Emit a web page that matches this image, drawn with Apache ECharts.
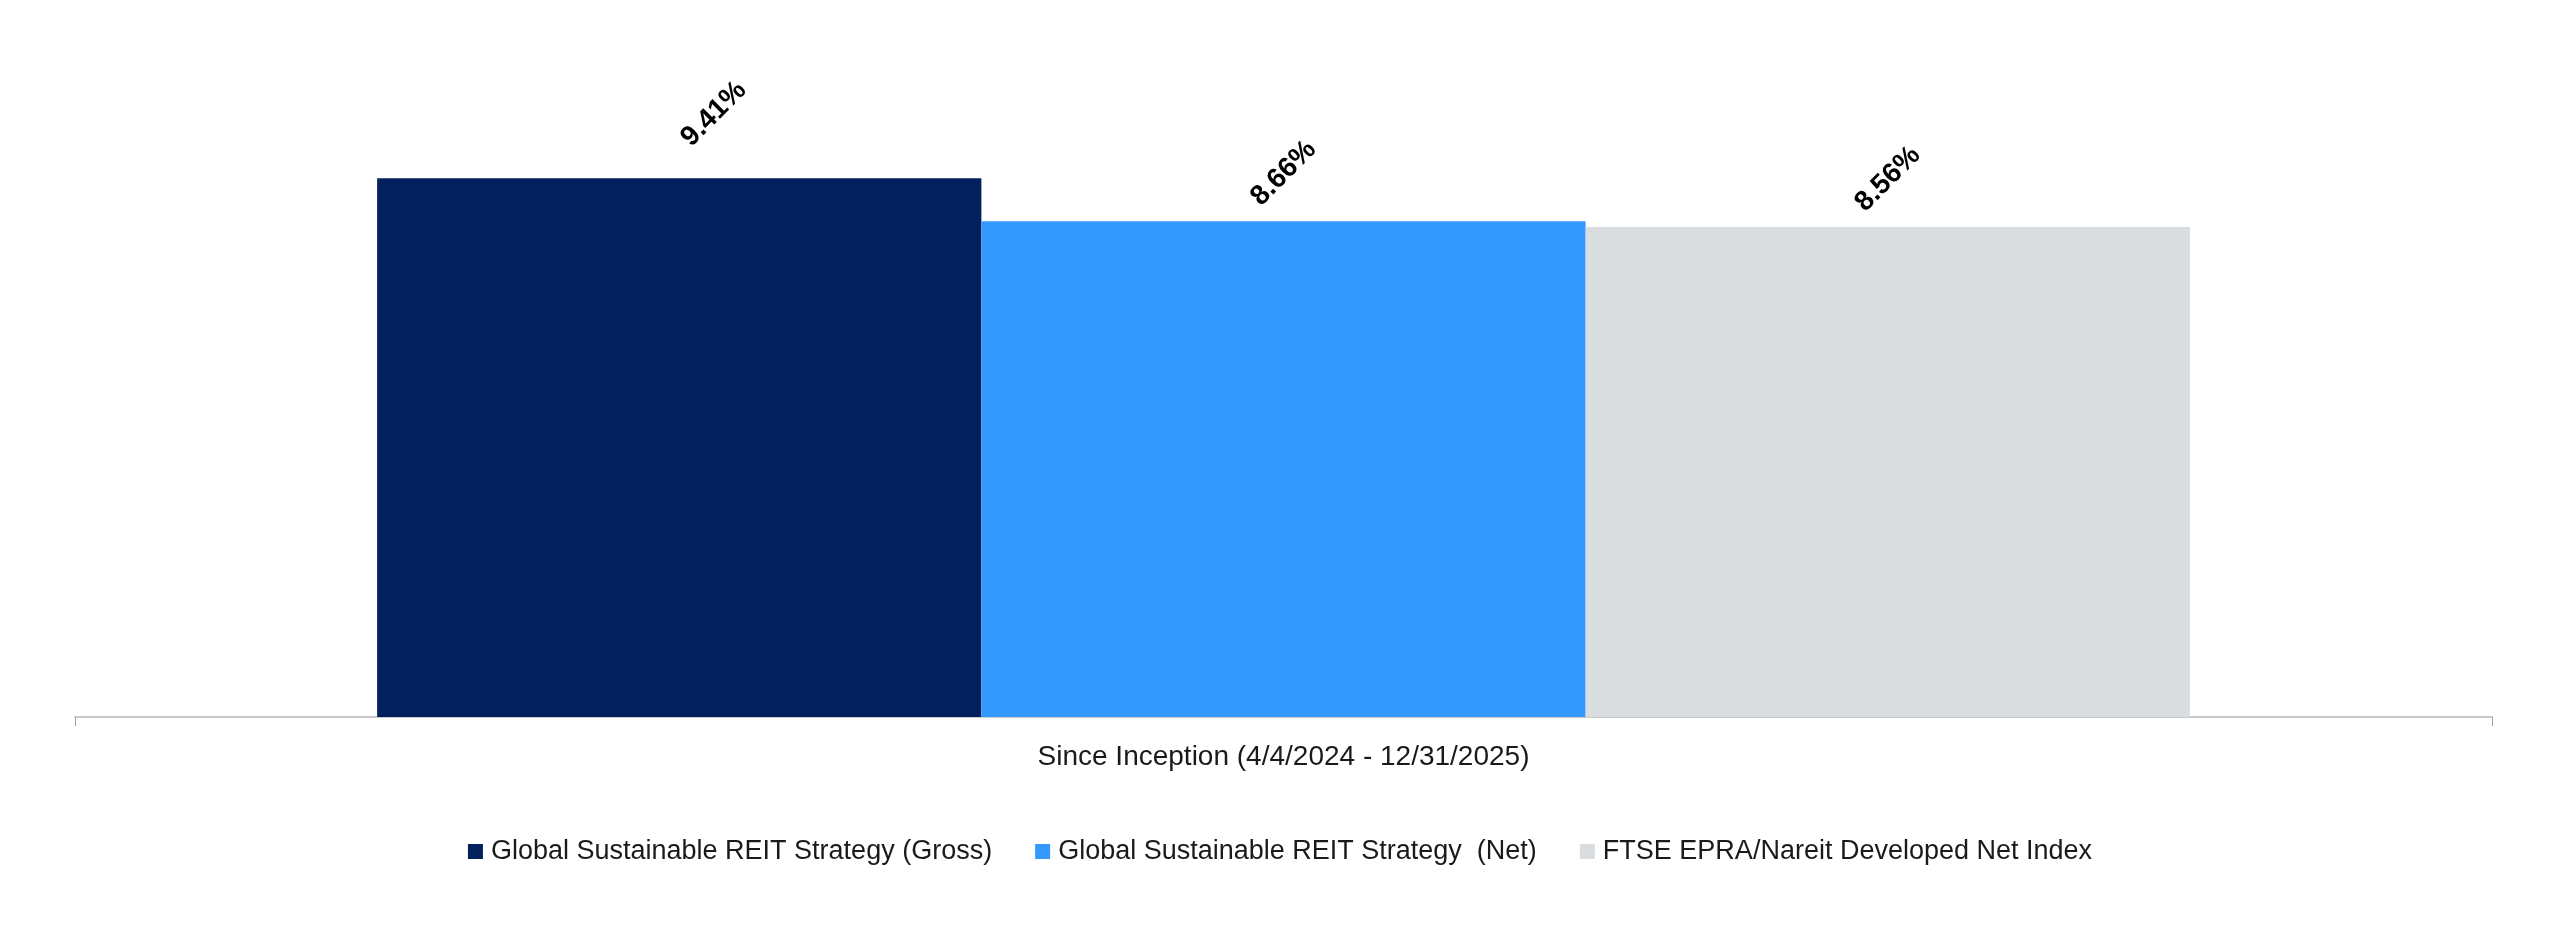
<!DOCTYPE html>
<html>
<head>
<meta charset="utf-8">
<title>Since Inception returns</title>
<script src="https://cdn.jsdelivr.net/npm/echarts@6/dist/echarts.min.js"></script>
<style>
  html, body { margin: 0; padding: 0; background: #fff; }
  #myChart { width: 2560px; height: 947px; }
</style>
</head>
<body>
<div id="myChart"></div>
<script>
// data
const categories = ['Since Inception (4/4/2024 - 12/31/2025)'];
const seriesNames = [
  'Global Sustainable REIT Strategy (Gross)',
  'Global Sustainable REIT Strategy  (Net)',
  'FTSE EPRA/Nareit Developed Net Index'
];
const grossValues = [9.41];
const netValues = [8.66];
const indexValues = [8.56];

const colors = ['#02205b', '#3399ff', '#d9dde0'];
const fontFamily = '"Liberation Sans", Arial, sans-serif';

// 基于准备好的dom，初始化echarts实例
let myChart = echarts.init(document.getElementById('myChart'));

function makeSeries(name, values, color, labelOffset) {
  return {
    name: name,
    type: 'bar',
    data: values,
    barGap: '0%',
    barCategoryGap: '25%',
    itemStyle: { color: color },
    label: {
      show: true,
      position: 'top',
      distance: 48,
      rotate: 45,
      align: 'center',
      verticalAlign: 'middle',
      // offset is applied in the rotated frame
      offset: labelOffset,
      color: '#000',
      fontFamily: fontFamily,
      fontWeight: 'bold',
      fontSize: 28,
      formatter: p => p.value.toFixed(2) + '%'
    }
  };
}

myChart.setOption({
  animation: false,
  color: colors,
  grid: { left: 75, right: 68, top: 30, bottom: 230, containLabel: false },
  legend: {
    bottom: 77,
    left: 'center',
    icon: 'rect',
    itemWidth: 15,
    itemHeight: 15,
    itemGap: 43,
    textStyle: {
      fontFamily: fontFamily,
      fontSize: 27,
      color: '#1a1a1a',
      padding: [0, 0, 0, 3]
    },
    data: seriesNames
  },
  xAxis: {
    type: 'category',
    data: categories,
    axisLine: { lineStyle: { color: '#c8c8c8', width: 2 } },
    axisTick: { show: true, length: 9, lineStyle: { color: '#a6a6a6', width: 1 } },
    axisLabel: {
      margin: 26,
      fontFamily: fontFamily,
      fontSize: 28,
      color: '#1a1a1a'
    }
  },
  yAxis: {
    type: 'value',
    min: 0,
    max: 12,
    show: false,
    splitLine: { show: false }
  },
  series: [
    makeSeries(seriesNames[0], grossValues, colors[0], [36, 13]),
    makeSeries(seriesNames[1], netValues, colors[1], [0, 0]),
    makeSeries(seriesNames[2], indexValues, colors[2], [0, 0])
  ]
});
</script>
</body>
</html>
